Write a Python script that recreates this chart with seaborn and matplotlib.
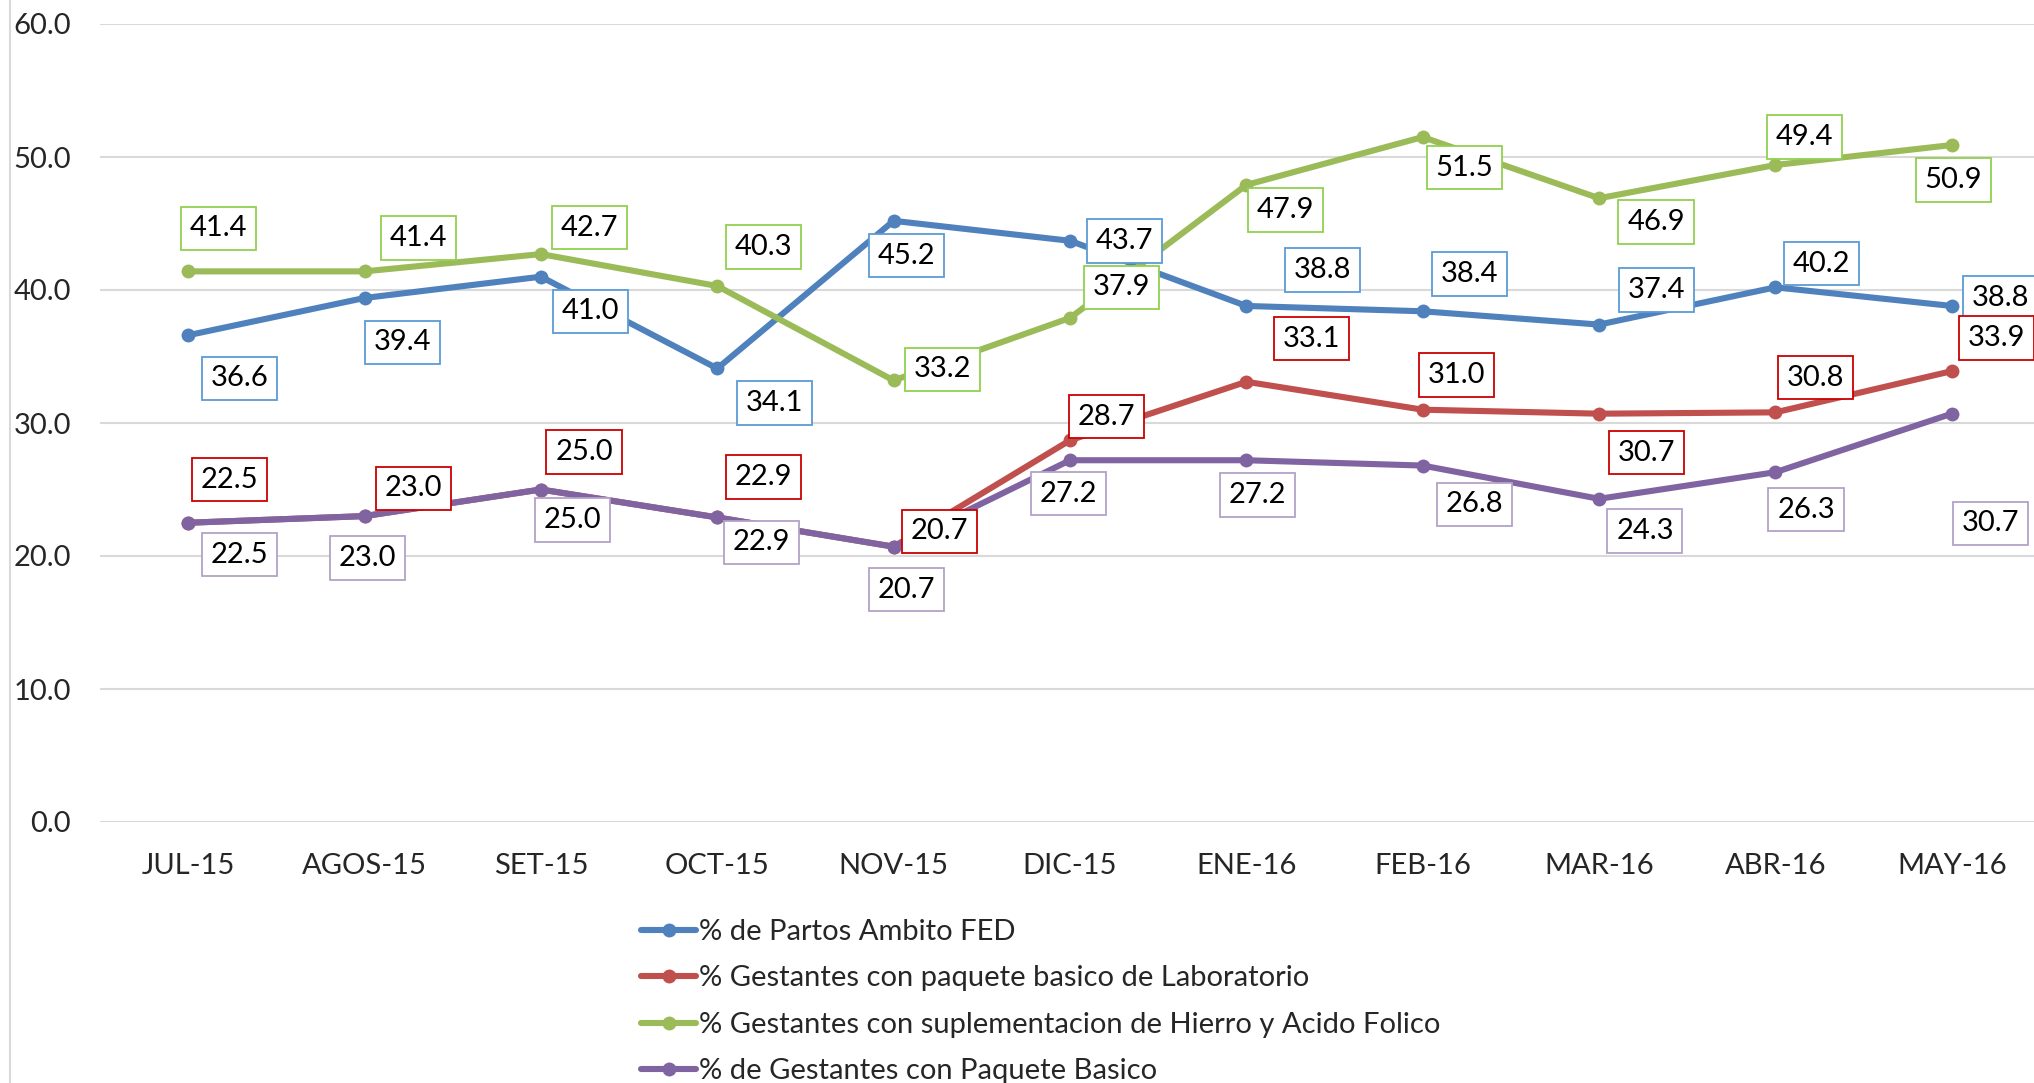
import matplotlib
matplotlib.use("Agg")
import matplotlib.pyplot as plt
import pandas as pd
import seaborn as sns
from matplotlib.lines import Line2D

# ── Data ──────────────────────────────────────────────────────────────────────
months = ["JUL-15", "AGOS-15", "SET-15", "OCT-15", "NOV-15", "DIC-15",
          "ENE-16", "FEB-16", "MAR-16", "ABR-16", "MAY-16"]

partos_fed = [36.6, 39.4, 41.0, 34.1, 45.2, 43.7, 38.8, 38.4, 37.4, 40.2, 38.8]
paquete_lab = [22.5, 23.0, 25.0, 22.9, 20.7, 28.7, 33.1, 31.0, 30.7, 30.8, 33.9]
hierro_folico = [41.4, 41.4, 42.7, 40.3, 33.2, 37.9, 47.9, 51.5, 46.9, 49.4, 50.9]
paquete_basico = [22.5, 23.0, 25.0, 22.9, 20.7, 27.2, 27.2, 26.8, 24.3, 26.3, 30.7]

series_names = [
    "% de Partos Ambito FED",
    "% Gestantes con paquete basico de Laboratorio",
    "% Gestantes con suplementacion de Hierro y Acido Folico",
    "% de Gestantes con Paquete Basico",
]
series_values = [partos_fed, paquete_lab, hierro_folico, paquete_basico]

# ── Style ─────────────────────────────────────────────────────────────────────
line_colors = ["#4F81BD", "#C0504D", "#9BBB59", "#8064A2"]
box_colors = ["#5B9BD5", "#CC0000", "#92D050", "#B3A2C7"]

# label offsets (points) from each marker to the label centre
label_offsets = [
    [(37, -31), (27, -32), (36, -25), (41, -25), (9, -25), (39, 0),
     (55, 26), (34, 27), (41, 25), (33, 17), (35, 6)],
    [(30, 31), (35, 20), (31, 27), (33, 29), (33, 11), (26, 17),
     (47, 31), (24, 25), (34, -28), (29, 25), (32, 24)],
    [(22, 31), (39, 24), (35, 19), (33, 28), (35, 8), (37, 22),
     (28, -18), (30, -22), (41, -17), (21, 20), (1, -25)],
    [(37, -23), (2, -30), (23, -22), (32, -18), (9, -31), (-1, -24),
     (8, -25), (37, -28), (33, -23), (22, -27), (28, -79)],
]

sns.set_theme(style="white")
plt.rcParams["font.family"] = ["Lato", "DejaVu Sans"]
FS = 21

fig = plt.figure(figsize=(20.34, 10.83), dpi=100)
ax = fig.add_axes([100 / 2034, 1 - 822 / 1083, 1940 / 2034, (822 - 24) / 1083])

x_idx = list(range(len(months)))
for name, vals, col in zip(series_names, series_values, line_colors):
    df = pd.DataFrame({"x": x_idx, "y": vals})
    sns.lineplot(data=df, x="x", y="y", ax=ax, color=col, linewidth=4.4,
                 marker="o", markersize=10, markeredgewidth=0, label=name,
                 legend=False)

for vals, bcol, offs in zip(series_values, box_colors, label_offsets):
    for i, v in enumerate(vals):
        ax.annotate(f"{v:.1f}", (i, v), xytext=offs[i], textcoords="offset points",
                    ha="center", va="center", fontsize=FS, color="black",
                    bbox=dict(boxstyle="square,pad=0.3", fc="white",
                              ec=bcol, lw=1.3), zorder=5)

ax.set_xlim(-0.5, 10.5)
ax.set_ylim(0, 60)
ax.set_yticks(range(0, 61, 10))
ax.set_yticklabels([f"{t:.1f}" for t in range(0, 61, 10)])
ax.set_xticks(x_idx)
ax.set_xticklabels(months)
ax.tick_params(axis="y", labelsize=FS, pad=21, length=0)
ax.tick_params(axis="x", labelsize=FS, pad=22, length=0)
ax.set_xlabel("")
ax.set_ylabel("")
ax.grid(axis="y", color="#D9D9D9", linewidth=1.5)
ax.set_axisbelow(True)
for s in ax.spines.values():
    s.set_visible(False)

# chart area border on the left
fig.add_artist(Line2D([10 / 2034, 10 / 2034], [0, 1], color="#D9D9D9",
                      linewidth=1.5, transform=fig.transFigure))

handles = [Line2D([0], [0], color=c, linewidth=4.4, marker="o", markersize=9)
           for c in line_colors]
fig.legend(handles, series_names, loc="upper left",
           bbox_to_anchor=(641 / 2034, 1 - 919 / 1083), frameon=False,
           fontsize=FS, handlelength=1.9, handletextpad=0.1,
           labelspacing=0.7, borderpad=0, borderaxespad=0)

fig.savefig("out.png", dpi=100)
